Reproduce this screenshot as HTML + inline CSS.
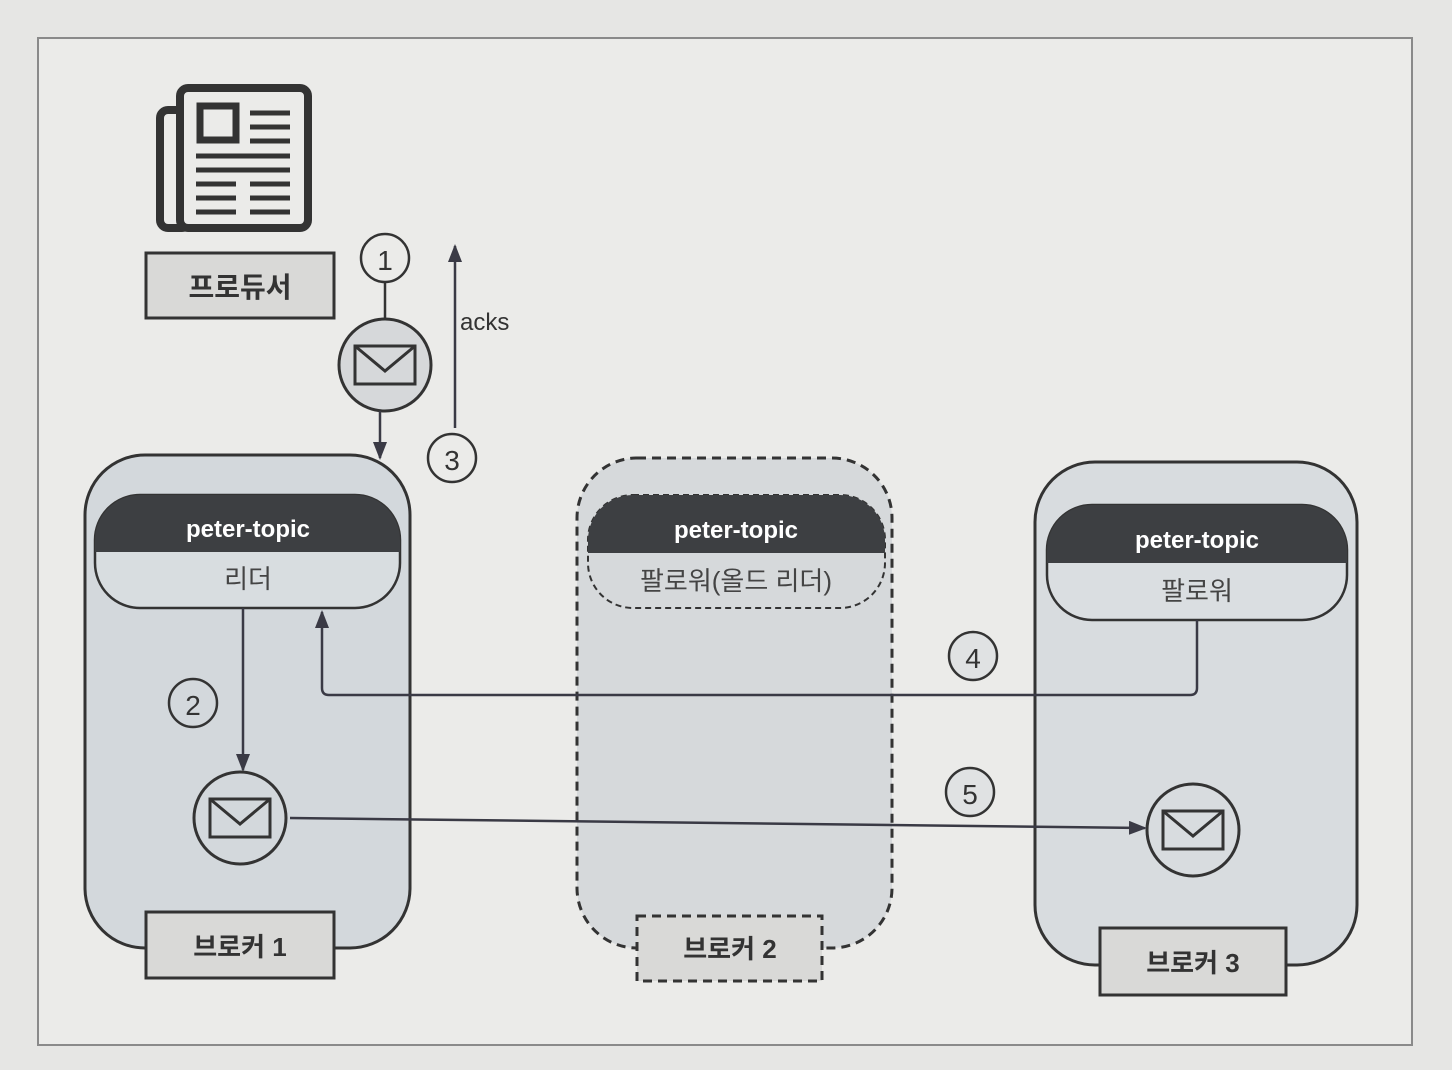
<!DOCTYPE html>
<html><head><meta charset="utf-8"><style>
html,body{margin:0;padding:0;background:#e6e6e4;}
svg{display:block}
text{font-family:"Liberation Sans","Noto Sans CJK KR",sans-serif;}
</style></head><body>
<svg width="1452" height="1070" viewBox="0 0 1452 1070" xmlns="http://www.w3.org/2000/svg">
<defs>
<marker id="ah2" markerWidth="18" markerHeight="14" refX="16" refY="7" orient="auto" markerUnits="userSpaceOnUse">
<path d="M0,0 L18,7 L0,14 z" fill="#3a3a45"/></marker>
<g id="env"><rect x="-30" y="-19" width="60" height="38" fill="none" stroke="#333" stroke-width="3"/><path d="M-30,-19 L0,6 L30,-19" fill="none" stroke="#333" stroke-width="3"/></g>
</defs>
<rect x="0" y="0" width="1452" height="1070" fill="#e6e6e4"/>
<rect x="38" y="38" width="1374" height="1007" fill="#ebebe9" stroke="#8a8a8a" stroke-width="2"/>

<!-- newspaper -->
<rect x="160" y="110" width="30" height="118" rx="8" fill="none" stroke="#333" stroke-width="8"/>
<rect x="180" y="88" width="128" height="140" rx="8" fill="#ebebe9" stroke="#333" stroke-width="8"/>
<rect x="200" y="106" width="36" height="34" fill="none" stroke="#333" stroke-width="7"/>
<g stroke="#333" stroke-width="5">
<line x1="250" y1="113" x2="290" y2="113"/><line x1="250" y1="127" x2="290" y2="127"/><line x1="250" y1="141" x2="290" y2="141"/>
<line x1="196" y1="156" x2="290" y2="156"/><line x1="196" y1="170" x2="290" y2="170"/>
<line x1="196" y1="184" x2="236" y2="184"/><line x1="250" y1="184" x2="290" y2="184"/>
<line x1="196" y1="198" x2="236" y2="198"/><line x1="250" y1="198" x2="290" y2="198"/>
<line x1="196" y1="212" x2="236" y2="212"/><line x1="250" y1="212" x2="290" y2="212"/></g>

<rect x="146" y="253" width="188" height="65" fill="#d9d9d7" stroke="#333" stroke-width="3"/>
<text x="240" y="297" font-size="28" font-weight="bold" text-anchor="middle" fill="#333">프로듀서</text>

<!-- step 1 -->
<line x1="385" y1="283" x2="385" y2="318" stroke="#333" stroke-width="2.5"/>
<circle cx="385" cy="258" r="24" fill="#ebebe9" stroke="#333" stroke-width="2.5"/>
<text x="385" y="270" font-size="28" text-anchor="middle" fill="#333">1</text>
<circle cx="385" cy="365" r="46" fill="#d6d8da" stroke="#333" stroke-width="3"/>
<use href="#env" x="385" y="365"/>
<line x1="380" y1="411" x2="380" y2="458" stroke="#3a3a45" stroke-width="2.5" marker-end="url(#ah2)"/>
<line x1="455" y1="428" x2="455" y2="246" stroke="#3a3a45" stroke-width="2.5" marker-end="url(#ah2)"/>
<text x="460" y="330" font-size="24" fill="#333">acks</text>
<circle cx="452" cy="458" r="24" fill="#ebebe9" stroke="#333" stroke-width="2.5"/>
<text x="452" y="470" font-size="28" text-anchor="middle" fill="#333">3</text>

<!-- broker1 -->
<rect x="85" y="455" width="325" height="493" rx="60" fill="#d3d8dc" stroke="#333" stroke-width="3"/>
<rect x="95" y="495" width="305" height="113" rx="45" fill="#d8dde0" stroke="#333" stroke-width="2.5"/>
<path d="M140,495 H355 A45,45 0 0 1 400,540 V552 H95 V540 A45,45 0 0 1 140,495 Z" fill="#3d3f42"/>
<text x="248" y="537" font-size="24" font-weight="bold" text-anchor="middle" fill="#fff">peter-topic</text>
<text x="248" y="588" font-size="26" text-anchor="middle" fill="#444">리더</text>
<line x1="243" y1="608" x2="243" y2="770" stroke="#3a3a45" stroke-width="2.5" marker-end="url(#ah2)"/>
<circle cx="193" cy="703" r="24" fill="#d3d8dc" stroke="#333" stroke-width="2.5"/>
<text x="193" y="715" font-size="28" text-anchor="middle" fill="#333">2</text>
<circle cx="240" cy="818" r="46" fill="#d3d8dc" stroke="#333" stroke-width="3"/>
<use href="#env" x="240" y="818"/>
<rect x="146" y="912" width="188" height="66" fill="#d9d9d7" stroke="#333" stroke-width="3"/>
<text x="240" y="956" font-size="26" font-weight="bold" text-anchor="middle" fill="#333">브로커 1</text>

<!-- broker2 -->
<rect x="577" y="458" width="315" height="490" rx="60" fill="#d6d9db" stroke="#333" stroke-width="3" stroke-dasharray="9,6"/>
<rect x="588" y="495" width="297" height="113" rx="45" fill="#d6d9db" stroke="#333" stroke-width="2" stroke-dasharray="6,4"/>
<path d="M633,495 H840 A45,45 0 0 1 885,540 V553 H588 V540 A45,45 0 0 1 633,495 Z" fill="#3d3f42"/>
<text x="736" y="538" font-size="24" font-weight="bold" text-anchor="middle" fill="#fff">peter-topic</text>
<text x="736" y="590" font-size="26" text-anchor="middle" fill="#444">팔로워(올드 리더)</text>
<rect x="637" y="916" width="185" height="65" fill="#d9d9d7" stroke="#333" stroke-width="3" stroke-dasharray="9,6"/>
<text x="730" y="958" font-size="26" font-weight="bold" text-anchor="middle" fill="#333">브로커 2</text>

<!-- broker3 -->
<rect x="1035" y="462" width="322" height="503" rx="60" fill="#d8dcdf" stroke="#333" stroke-width="3"/>
<rect x="1047" y="505" width="300" height="115" rx="45" fill="#dadee1" stroke="#333" stroke-width="2.5"/>
<path d="M1092,505 H1302 A45,45 0 0 1 1347,550 V563 H1047 V550 A45,45 0 0 1 1092,505 Z" fill="#3d3f42"/>
<text x="1197" y="548" font-size="24" font-weight="bold" text-anchor="middle" fill="#fff">peter-topic</text>
<text x="1197" y="600" font-size="26" text-anchor="middle" fill="#444">팔로워</text>
<circle cx="1193" cy="830" r="46" fill="#d8dcdf" stroke="#333" stroke-width="3"/>
<use href="#env" x="1193" y="830"/>
<rect x="1100" y="928" width="186" height="67" fill="#d9d9d7" stroke="#333" stroke-width="3"/>
<text x="1193" y="972" font-size="26" font-weight="bold" text-anchor="middle" fill="#333">브로커 3</text>

<!-- step 4 -->
<path d="M1197,620 V688 Q1197,695 1190,695 H329 Q322,695 322,688 V612" fill="none" stroke="#3a3a45" stroke-width="2.5" marker-end="url(#ah2)"/>
<circle cx="973" cy="656" r="24" fill="#e0e2e3" stroke="#333" stroke-width="2.5"/>
<text x="973" y="668" font-size="28" text-anchor="middle" fill="#333">4</text>
<!-- step 5 -->
<line x1="290" y1="818" x2="1145" y2="828" stroke="#3a3a45" stroke-width="2.5" marker-end="url(#ah2)"/>
<circle cx="970" cy="792" r="24" fill="#e0e2e3" stroke="#333" stroke-width="2.5"/>
<text x="970" y="804" font-size="28" text-anchor="middle" fill="#333">5</text>
</svg>
</body></html>
